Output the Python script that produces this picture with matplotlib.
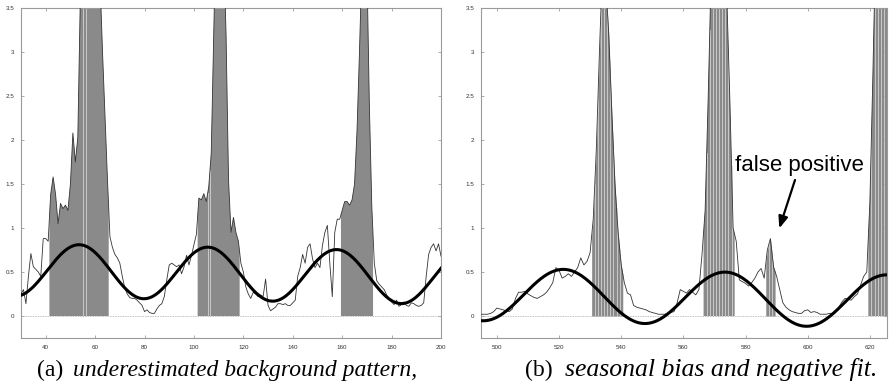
import numpy as np
import matplotlib
matplotlib.use("Agg")
import matplotlib.pyplot as plt

# ---------------- data: panel (a) ----------------
xa = list(range(30, 201))
ya = [0.25, 0.30, 0.14, 0.45, 0.71, 0.56, 0.53, 0.50, 0.45, 0.88,
      0.88, 0.85, 1.38, 1.58, 1.38, 1.05, 1.28, 1.22, 1.26, 1.20,
      1.50, 2.08, 1.75, 2.03, 3.60, 4.50, 5.20, 5.60, 5.60, 5.40,
      5.00, 4.40, 3.80, 3.00, 2.26, 1.55, 0.90, 0.78, 0.70, 0.66,
      0.60, 0.45, 0.32, 0.25, 0.21, 0.20, 0.20, 0.18, 0.15, 0.12,
      0.05, 0.07, 0.04, 0.03, 0.03, 0.08, 0.12, 0.14, 0.22, 0.41,
      0.58, 0.60, 0.58, 0.56, 0.58, 0.48, 0.56, 0.69, 0.58, 0.69,
      0.81, 0.93, 1.34, 1.32, 1.39, 1.30, 1.47, 1.85, 3.20, 4.50,
      5.00, 4.80, 4.20, 3.20, 1.55, 0.95, 1.12, 0.95, 0.85, 0.60,
      0.50, 0.33, 0.25, 0.20, 0.27, 0.25, 0.22, 0.24, 0.22, 0.42,
      0.12, 0.06, 0.08, 0.10, 0.14, 0.14, 0.13, 0.14, 0.12, 0.12,
      0.15, 0.18, 0.45, 0.55, 0.70, 0.60, 0.78, 0.82, 0.65, 0.55,
      0.60, 0.55, 0.80, 0.95, 1.03, 0.60, 0.22, 0.95, 1.10, 1.10,
      1.20, 1.30, 1.30, 1.26, 1.32, 1.50, 2.10, 3.00, 4.00, 4.40,
      4.00, 2.40, 1.24, 0.60, 0.40, 0.36, 0.33, 0.30, 0.24, 0.20,
      0.16, 0.13, 0.18, 0.11, 0.13, 0.16, 0.12, 0.11, 0.15, 0.14,
      0.12, 0.11, 0.12, 0.15, 0.45, 0.70, 0.78, 0.82, 0.74, 0.82,
      0.68]
# detected anomaly runs (first, last sample)
runs_a = [(42, 65), (102, 118), (160, 172)]
gaps_a = [55.2, 56.2, 105.6, 106.5]
# seasonal fit coefficients (offset, drift, amplitude, period, peak)
fit_a = dict(offset=0.51, drift=-0.00053, amp=0.30, period=52.1, peak=53.6)

# ---------------- data: panel (b) ----------------
xb = list(range(495, 627))
yb = [0.02, 0.02, 0.02, 0.03, 0.05, 0.09, 0.08, 0.07, 0.06, 0.05,
      0.08, 0.20, 0.27, 0.27, 0.28, 0.25, 0.23, 0.21, 0.20, 0.22,
      0.24, 0.27, 0.32, 0.38, 0.55, 0.52, 0.43, 0.45, 0.48, 0.45,
      0.50, 0.55, 0.66, 0.58, 0.62, 0.72, 1.10, 1.90, 3.00, 4.00,
      3.80, 3.20, 2.30, 1.50, 0.95, 0.58, 0.38, 0.26, 0.24, 0.12,
      0.10, 0.09, 0.08, 0.07, 0.05, 0.04, 0.03, 0.02, 0.02, 0.02,
      0.03, 0.04, 0.05, 0.15, 0.30, 0.28, 0.26, 0.30, 0.27, 0.24,
      0.30, 0.70, 1.20, 2.50, 4.00, 5.00, 5.00, 5.00, 4.50, 3.60,
      2.40, 1.00, 0.85, 0.41, 0.39, 0.37, 0.34, 0.38, 0.43, 0.50,
      0.54, 0.43, 0.75, 0.88, 0.56, 0.45, 0.30, 0.15, 0.10, 0.07,
      0.05, 0.04, 0.03, 0.03, 0.06, 0.07, 0.04, 0.05, 0.04, 0.02,
      0.02, 0.02, 0.03, 0.03, 0.06, 0.10, 0.16, 0.20, 0.19, 0.18,
      0.22, 0.25, 0.35, 0.45, 0.50, 1.30, 2.80, 4.50, 5.00, 5.00,
      5.00, 5.00]
runs_b = [(531, 540), (567, 576), (587, 589), (620, 626)]
fit_b = dict(offset=0.23, drift=-0.0006, amp=0.30, period=52.0, peak=521.5)

xticks_a = [40, 60, 80, 100, 120, 140, 160, 180, 200]
xticks_b = [500, 520, 540, 560, 580, 600, 620]
yticks = [0, 0.5, 1, 1.5, 2, 2.5, 3, 3.5]
ytick_labels = ["0", "0.5", "1", "1.5", "2", "2.5", "3", "3.5"]

W, H = 893, 385
fig = plt.figure(figsize=(W / 100, H / 100), dpi=100)

FILL = "#8a8a8a"


def draw(ax, x, y, runs, fit, xlim, xticks, gaps=None, every_gap=False):
    x = np.asarray(x, float)
    y = np.asarray(y, float)
    for s, e in runs:
        xf = np.linspace(s - 0.5, e + 0.5, 400)
        yf = np.interp(xf, x, y)
        ax.fill_between(xf, 0, yf, color=FILL, linewidth=0, zorder=1)
        if every_gap:
            for g in np.arange(s + 0.5, e + 0.5, 1.0):
                ax.plot([g, g], [0, np.interp(g, x, y)], color="#d4d4d4",
                        lw=0.6, zorder=1.5)
    if gaps:
        for g in gaps:
            ax.plot([g, g], [0, np.interp(g, x, y)], color="#d4d4d4",
                    lw=0.6, zorder=1.5)
    ax.plot([xlim[0], xlim[1]], [0, 0], color="#aaaaaa", lw=0.6,
            ls=(0, (1, 1)), zorder=2)
    ax.plot(x, y, color="#333333", lw=0.6, zorder=3)
    xs = np.linspace(xlim[0], xlim[1], 600)
    ys = (fit["offset"] + fit["drift"] * (xs - fit["peak"])
          + fit["amp"] * np.cos(2 * np.pi * (xs - fit["peak"]) / fit["period"]))
    ax.plot(xs, ys, color="black", lw=2.2, zorder=4)
    ax.set_xlim(*xlim)
    ax.set_ylim(-0.25, 3.5)
    ax.set_xticks(xticks)
    ax.set_xticklabels([str(t) for t in xticks])
    ax.set_yticks(yticks)
    ax.set_yticklabels(ytick_labels)
    ax.tick_params(direction="in", top=True, right=True, length=2.5,
                   width=0.5, color="#888888", labelsize=4.5,
                   labelcolor="#333333", pad=5)
    for lab in ax.get_xticklabels() + ax.get_yticklabels():
        lab.set_family("Liberation Sans")
    for sp in ax.spines.values():
        sp.set_color("#9a9a9a")
        sp.set_linewidth(0.8)


ax1 = fig.add_axes([21 / W, 1 - 338 / H, 420 / W, 330 / H])
draw(ax1, xa, ya, runs_a, fit_a, (30, 200), xticks_a, gaps=gaps_a)

ax2 = fig.add_axes([481.3 / W, 1 - 338 / H, 406 / W, 330 / H])
draw(ax2, xb, yb, runs_b, fit_b, (495, 625.6), xticks_b, every_gap=True)

# annotation
ax2.annotate("false positive", xy=(779.3 / W, 1 - 228.3 / H),
             xycoords="figure fraction",
             xytext=(735 / W, 1 - 171.5 / H), textcoords="figure fraction",
             fontsize=16, family="Liberation Sans", ha="left", va="baseline",
             zorder=10)
ax2.annotate("", xy=(779.3 / W, 1 - 228.3 / H), xycoords="figure fraction",
             xytext=(795 / W, 1 - 180 / H), textcoords="figure fraction",
             arrowprops=dict(arrowstyle="-|>,head_length=0.7,head_width=0.28",
                             color="black", lw=1.6, shrinkA=0, shrinkB=0))

# captions
cy = 1 - 376 / H
fig.text(37 / W, cy, "(a)", family="Liberation Serif", fontsize=17,
         va="baseline", ha="left")
fig.text(417 / W, cy, "underestimated background pattern,",
         family="Liberation Serif", style="italic", fontsize=17,
         va="baseline", ha="right")
fig.text(525 / W, cy, "(b)", family="Liberation Serif", fontsize=17,
         va="baseline", ha="left")
fig.text(877 / W, cy, "seasonal bias and negative fit.",
         family="Liberation Serif", style="italic", fontsize=18.5,
         va="baseline", ha="right")

fig.savefig("out.png", dpi=100)
